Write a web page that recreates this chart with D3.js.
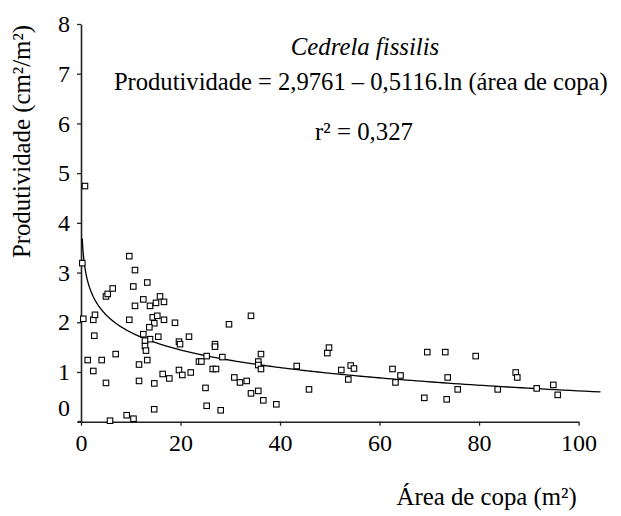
<!DOCTYPE html>
<html>
<head>
<meta charset="utf-8">
<script src="https://cdn.jsdelivr.net/npm/d3@7/dist/d3.min.js"></script>
<style>
  html, body { margin: 0; padding: 0; background: #fff; }
  svg { display: block; }
  text { font-family: "Liberation Serif", "Times New Roman", serif; fill: #000; }
</style>
</head>
<body>
<svg id="chart" width="621" height="516"></svg>
<script>
// Crown area (m²) of each tree
const crownArea = [
  0.26, 0.8, 0.46, 2.47, 2.81, 2.67, 1.35, 2.47, 4.16, 5.02,
  5.83, 5.02, 5.37, 6.37, 6.97, 9.71, 10.85, 10.51, 13.32, 9.71,
  10.85, 12.52, 13.87, 15.07, 15.88, 16.68, 14.41, 15.33, 16.68, 18.89,
  14.73, 13.73, 12.52, 13.87, 12.86, 12.86, 13.06, 15.53, 19.69, 19.90,
  21.70, 13.32, 11.66, 16.42, 17.75, 14.73, 11.66, 19.69, 20.36, 22.05,
  23.71, 24.2, 25.26, 26.93, 26.93, 26.47, 27.13, 25.02, 25.26, 9.18,
  10.55, 14.71, 28.07, 28.40, 29.74, 34.16, 30.81, 31.95, 33.30, 34.16,
  35.63, 36.64, 39.25, 35.63, 35.63, 36.17, 36.17, 43.35, 45.82, 49.84,
  49.50, 52.31, 53.72, 54.20, 54.86, 62.60, 63.20, 64.21, 69.59, 68.99,
  73.21, 73.69, 73.49, 75.70, 79.32, 83.74, 87.36, 87.68, 91.58, 94.92,
  95.80
];
// Productivity (cm²/m²) of the same trees
const productivity = [
  3.19, 4.74, 2.07, 2.05, 2.15, 1.73, 1.24, 1.02, 1.24, 0.78,
  0.02, 2.52, 2.57, 2.68, 1.36, 3.33, 3.05, 2.72, 2.80, 2.05,
  2.33, 2.46, 2.33, 2.39, 2.52, 2.41, 2.10, 2.13, 2.05, 1.99,
  1.98, 1.90, 1.76, 1.66, 1.63, 1.52, 1.43, 1.71, 1.61, 1.56,
  1.71, 1.24, 1.15, 0.96, 0.87, 0.77, 0.82, 1.04, 0.94, 0.99,
  1.21, 1.21, 1.32, 1.56, 1.51, 1.06, 1.06, 0.68, 0.32, 0.13,
  0.06, 0.25, 0.23, 1.30, 1.96, 2.13, 0.89, 0.79, 0.82, 0.57,
  0.62, 0.43, 0.35, 1.21, 1.14, 1.36, 1.06, 1.12, 0.65, 1.49,
  1.38, 1.04, 0.85, 1.13, 1.07, 1.06, 0.79, 0.93, 1.40, 0.48,
  1.40, 0.89, 0.45, 0.65, 1.32, 0.65, 0.99, 0.89, 0.67, 0.74,
  0.54
];

// Logarithmic fit: Produtividade = a − b·ln(área de copa)
const fitIntercept = 2.9761;
const fitSlope = 0.5116;
const fitRange = [0.25, 104.4];

const xTicks = [0, 20, 40, 60, 80, 100];
const yTicks = [0, 1, 2, 3, 4, 5, 6, 7, 8];

const speciesName = "Cedrela fissilis";
const equationText = "Produtividade = 2,9761 – 0,5116.ln (área de copa)";
const r2Text = "r² = 0,327";
const xTitle = "Área de copa (m²)";
const yTitle = "Produtividade (cm²/m²)";

const svg = d3.select("#chart");

const x = d3.scaleLinear().domain([0, 100]).range([81, 578.6]);
const y = d3.scaleLinear().domain([0, 8]).range([421.7, 24]);

// Trend curve sampled from the fitted equation
const curvePts = d3.range(0, 401).map(i => {
  const t = i / 400;
  const a = Math.exp(Math.log(fitRange[0]) + t * (Math.log(fitRange[1]) - Math.log(fitRange[0])));
  return [a, fitIntercept - fitSlope * Math.log(a)];
});

// Axes
const xAxis = d3.axisBottom(x).tickValues(xTicks).tickSize(4).tickSizeOuter(0).tickPadding(8);
const yAxis = d3.axisLeft(y).tickValues(yTicks).tickSize(4).tickSizeOuter(0).tickPadding(7);

const gx = svg.append("g").attr("transform", `translate(0,${y(0)})`).call(xAxis);
const gy = svg.append("g").attr("transform", `translate(${x(0)},0)`).call(yAxis);

[gx, gy].forEach(g => {
  g.select(".domain").attr("stroke", "#222").attr("stroke-width", 1.6);
  g.selectAll(".tick line").attr("stroke", "#222").attr("stroke-width", 1.3);
  g.selectAll(".tick text")
    .attr("font-family", "'Liberation Serif', 'Times New Roman', serif")
    .attr("font-size", 24)
    .attr("fill", "#000");
});
// lift the zero label off the horizontal axis
gy.selectAll(".tick text").filter(d => d === 0).attr("dy", "-0.24em");

// extend the horizontal axis slightly left of the origin
svg.append("line")
  .attr("x1", x(0) - 3).attr("x2", x(0))
  .attr("y1", y(0)).attr("y2", y(0))
  .attr("stroke", "#222").attr("stroke-width", 1.6);

// Fitted curve
svg.append("path")
  .datum(curvePts)
  .attr("fill", "none")
  .attr("stroke", "#000")
  .attr("stroke-width", 1.3)
  .attr("d", d3.line().x(d => x(d[0])).y(d => y(d[1])));

// Observations
const pts = crownArea.map((a, i) => [a, productivity[i]]);
const s = 5.5;
svg.append("g").selectAll("rect")
  .data(pts)
  .join("rect")
  .attr("x", d => x(d[0]) - s / 2)
  .attr("y", d => y(d[1]) - s / 2)
  .attr("width", s)
  .attr("height", s)
  .attr("fill", "#fff")
  .attr("stroke", "#000")
  .attr("stroke-width", 1.1);

// Annotations
svg.append("text")
  .attr("x", 365).attr("y", 55)
  .attr("text-anchor", "middle")
  .attr("font-size", 24.8)
  .attr("font-style", "italic")
  .text(speciesName);

svg.append("text")
  .attr("x", 360.8).attr("y", 90)
  .attr("text-anchor", "middle")
  .attr("font-size", 24.6)
  .text(equationText);

svg.append("text")
  .attr("x", 364).attr("y", 140)
  .attr("text-anchor", "middle")
  .attr("font-size", 24.8)
  .text(r2Text);

// Axis titles
svg.append("text")
  .attr("x", 486.7).attr("y", 505)
  .attr("text-anchor", "middle")
  .attr("font-size", 24.8)
  .text(xTitle);

svg.append("text")
  .attr("transform", "translate(30,141.5) rotate(-90)")
  .attr("text-anchor", "middle")
  .attr("font-size", 24.8)
  .text(yTitle);
</script>
</body>
</html>
